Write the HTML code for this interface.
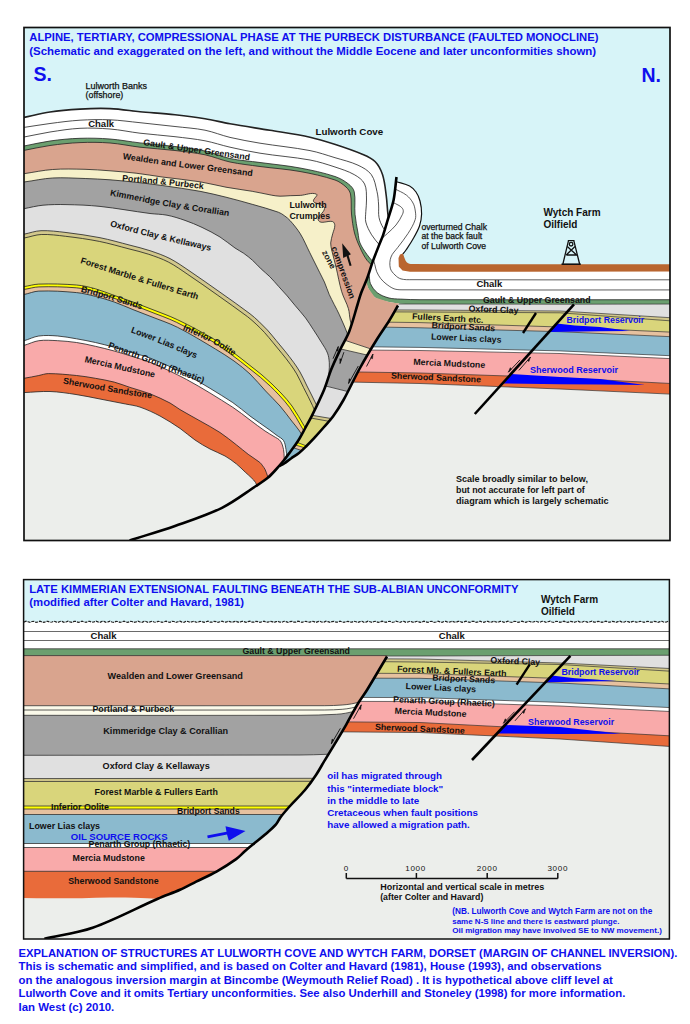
<!DOCTYPE html>
<html><head><meta charset="utf-8"><style>
html,body{margin:0;padding:0;background:#fff;width:690px;height:1024px;overflow:hidden}
svg{display:block}
text{font-family:"Liberation Sans",sans-serif}
</style></head><body>
<svg width="690" height="1024" viewBox="0 0 690 1024">
<defs>
<clipPath id="pt"><rect x="24" y="27" width="646" height="513"/></clipPath>
<clipPath id="lb"><path d="M18,20 L398.0,20.0 L398.0,160.0 L396.5,177.0 L393.6,200.0 L387.8,219.7 L383.2,234.8 L378.6,246.4 L372.8,261.4 L367.0,278.8 L361.2,292.8 L357.7,304.0 L349.3,331.2 L340.0,350.0 L331.0,370.0 L324.0,390.0 L312.2,415.2 L305.0,428.5 L297.8,441.3 L290.5,451.5 L283.5,460.8 L276.0,469.5 L267.8,477.8 L256.0,486.0 L222.0,507.8 L175.0,526.0 L129.6,540.4 L110.0,546.0 L18.0,560.0 Z"/></clipPath>
<clipPath id="rl"><path d="M398,20 L700.0,20.0 L700.0,560.0 L110.0,560.0 L110.0,546.0 L129.6,540.4 L175.0,526.0 L222.0,507.8 L256.0,486.0 L267.8,477.8 L276.0,469.5 L283.5,460.8 L290.5,451.5 L297.8,441.3 L305.0,428.5 L312.2,415.2 L324.0,390.0 L331.0,370.0 L340.0,350.0 L349.3,331.2 L357.7,304.0 L361.2,292.8 L367.0,278.8 L372.8,261.4 L378.6,246.4 L383.2,234.8 L387.8,219.7 L393.6,200.0 L396.5,177.0 L398.0,160.0 Z"/></clipPath>
<clipPath id="mb"><path d="M410,255 L402.0,300.0 L398.0,305.5 L389.6,320.0 L376.5,340.0 L360.0,368.0 L343.5,400.0 L333.0,416.5 L324.0,427.0 L314.8,437.4 L306.5,446.0 L299.0,453.0 L291.0,458.5 L284.5,463.2 L279.4,466.2 L283.5,460.8 L290.5,451.5 L297.8,441.3 L305.0,428.5 L312.2,415.2 L324.0,390.0 L331.0,370.0 L340.0,350.0 L349.3,331.2 L357.7,304.0 L361.2,292.8 L367.0,278.8 L372.8,261.4 Z"/></clipPath>
<clipPath id="rb"><path d="M402,298 L700.0,298.0 L700.0,560.0 L110.0,546.0 L129.6,540.4 L175.0,526.0 L222.0,507.8 L256.0,486.0 L267.8,477.8 L276.0,469.5 L279.4,466.2 L279.4,466.2 L284.5,463.2 L291.0,458.5 L299.0,453.0 L306.5,446.0 L314.8,437.4 L324.0,427.0 L333.0,416.5 L343.5,400.0 L360.0,368.0 L376.5,340.0 L389.6,320.0 L398.0,305.5 Z"/></clipPath>
</defs>
<rect width="690" height="1024" fill="#fff"/>
<g clip-path="url(#pt)">
<rect x="24" y="27" width="646" height="513" fill="#d7f4f8"/>
<g clip-path="url(#lb)">
<path d="M18.0,118.5 C20.0,118.1 22.0,117.8 24.0,117.4 C32.7,115.6 41.2,113.3 50.0,112.0 C59.9,110.5 70.0,109.7 80.0,109.1 C90.0,108.5 100.0,108.2 110.0,108.6 C120.0,109.0 130.0,110.7 140.0,111.7 C151.7,112.8 163.4,113.5 175.0,114.8 C185.0,115.9 195.0,117.1 205.0,118.7 C213.4,120.1 221.6,122.3 230.0,123.8 C243.3,126.2 256.7,128.1 270.0,130.3 C283.3,132.5 296.8,134.3 310.0,137.2 C318.6,139.1 327.0,141.8 335.4,144.5 C344.3,147.4 353.1,150.3 361.7,154.0 C366.4,156.0 371.4,157.9 375.0,161.5 C378.6,165.0 380.9,169.8 382.5,174.6 C384.7,181.3 385.3,188.4 386.2,195.4 C387.1,201.9 387.2,208.5 388.0,215.0 C389.1,223.4 390.7,231.7 392.0,240.0 L397.0,560 L18.0,560 Z" fill="#ffffff"/>
<path d="M18.0,147.0 C20.0,146.7 22.0,146.4 24.0,146.0 C32.7,144.4 41.3,142.2 50.0,141.0 C59.9,139.6 70.0,138.6 80.0,138.3 C90.0,138.0 100.0,138.2 110.0,139.0 C120.1,139.8 130.0,141.7 140.0,142.9 C151.7,144.2 163.4,145.0 175.0,146.5 C185.0,147.8 195.1,148.8 205.0,151.0 C213.5,152.9 221.5,156.7 230.0,158.5 C239.9,160.6 250.0,161.1 260.0,162.5 C273.3,164.3 286.8,165.5 300.0,168.0 C311.8,170.2 323.6,172.7 335.0,176.5 C339.9,178.1 344.5,180.8 348.5,184.0 C351.0,186.0 353.5,188.5 354.2,191.6 C355.8,199.0 354.3,206.7 355.0,214.2 C355.6,220.5 356.9,226.7 358.0,233.0 C358.6,236.3 358.7,239.9 360.0,243.0 C361.7,247.1 364.4,250.8 367.0,254.5 C368.7,257.0 370.7,259.2 372.8,261.4 C375.1,263.7 377.6,265.8 380.0,268.0 L385.0,560 L18.0,560 Z" fill="#6b9f6f"/>
<path d="M18.0,151.5 C20.0,151.1 22.0,150.8 24.0,150.4 C32.7,148.8 41.3,146.7 50.0,145.5 C60.0,144.1 70.0,143.0 80.0,142.6 C90.0,142.2 100.0,142.2 110.0,143.0 C120.1,143.8 130.0,146.0 140.0,147.2 C151.6,148.5 163.4,149.1 175.0,150.5 C185.0,151.7 195.1,152.7 205.0,154.8 C213.5,156.6 221.5,160.2 230.0,162.0 C239.9,164.1 250.0,165.1 260.0,166.5 C273.3,168.3 286.8,169.1 300.0,171.5 C311.8,173.6 323.6,176.2 335.0,180.0 C339.1,181.4 342.8,184.1 346.0,187.0 C348.1,188.9 349.9,191.3 350.5,194.0 C351.8,200.5 350.8,207.4 351.5,214.0 C352.2,220.4 352.9,226.8 354.5,233.0 C355.8,238.0 357.8,242.9 360.0,247.6 C362.0,252.0 364.1,256.4 367.0,260.3 C369.2,263.3 372.3,265.4 375.0,268.0 L380.0,560 L18.0,560 Z" fill="#d9a48e"/>
<path d="M18.0,174.5 C20.0,174.2 22.0,174.0 24.0,173.7 C33.5,172.3 43.0,170.2 52.6,169.5 C63.4,168.7 74.2,169.1 85.0,169.3 C93.3,169.5 101.7,170.2 110.0,170.8 C118.7,171.5 127.4,172.2 136.1,173.2 C144.8,174.2 153.5,175.8 162.2,177.0 C174.8,178.7 187.5,179.8 200.0,181.8 C208.7,183.2 217.3,185.6 226.0,187.2 C234.7,188.8 243.5,189.8 252.2,191.3 C258.7,192.4 265.2,194.0 271.7,195.2 C274.4,195.7 277.2,196.1 280.0,196.2 C283.4,196.3 286.7,195.8 290.1,195.7 C293.5,195.6 296.9,195.6 300.3,195.4 C305.7,195.1 311.6,192.0 316.5,194.2 C318.8,195.2 312.7,198.8 313.5,201.3 C314.2,203.5 317.7,203.1 319.6,204.3 C321.4,205.5 324.7,206.2 324.6,208.4 C324.3,212.9 316.1,216.7 318.5,220.6 C321.0,224.6 328.2,220.2 332.7,221.6 C334.1,222.0 334.8,224.1 334.8,225.6 C334.8,228.4 333.4,231.1 332.7,233.8 C332.0,236.8 330.9,239.8 330.7,242.9 C330.6,245.3 331.2,247.7 331.7,250.0 C333.0,255.7 334.6,261.3 336.0,267.0 C338.0,275.2 339.3,283.6 341.7,291.7 C343.4,297.5 346.7,302.8 348.4,308.6 C349.5,312.3 349.4,316.2 350.2,320.0 C350.9,323.4 351.7,326.8 353.0,330.0 C355.0,335.1 357.7,340.0 360.0,345.0 L365.0,560 L18.0,560 Z" fill="#f6f0c9"/>
<path d="M18.0,182.5 C20.0,182.3 22.0,182.3 24.0,182.0 C33.5,180.8 43.0,178.5 52.6,178.0 C63.5,177.4 74.3,178.2 85.2,178.5 C93.5,178.8 101.7,179.2 110.0,179.8 C118.7,180.4 127.3,181.4 136.0,182.3 C144.7,183.3 153.5,184.3 162.2,185.5 C174.8,187.3 187.5,189.0 200.0,191.3 C208.7,192.9 217.4,195.1 226.0,197.2 C234.8,199.4 243.5,201.8 252.2,204.3 C260.9,206.8 269.7,209.1 278.3,212.2 C280.7,213.0 282.8,214.5 284.8,216.0 C286.7,217.4 288.6,218.8 290.1,220.6 C293.8,224.8 297.4,229.1 300.3,233.8 C304.0,239.8 306.6,246.4 309.8,252.7 C313.0,259.2 316.3,265.7 319.5,272.2 C321.1,275.5 322.9,278.7 324.4,282.0 C326.2,286.2 327.5,290.5 329.3,294.7 C330.8,298.0 332.6,301.2 334.2,304.5 C335.8,307.7 337.6,310.9 339.1,314.2 C340.8,317.8 342.4,321.4 343.9,325.0 C345.0,327.6 346.1,330.2 347.0,332.8 C348.4,336.8 349.8,340.9 351.0,345.0 C352.5,350.0 353.7,355.0 355.0,360.0 L360.0,560 L18.0,560 Z" fill="#a2a2a2"/>
<path d="M18.0,210.0 C20.0,209.6 22.0,209.1 24.0,208.7 C30.3,207.5 36.6,205.8 43.0,205.2 C50.6,204.5 58.3,204.4 66.0,204.6 C77.3,204.8 88.7,205.2 100.0,206.4 C116.7,208.2 133.3,211.3 150.0,213.5 C155.6,214.2 161.4,214.1 167.0,215.2 C173.1,216.4 179.1,218.3 185.0,220.4 C190.8,222.4 196.5,224.8 202.0,227.4 C208.1,230.3 214.2,233.4 220.0,237.0 C225.3,240.3 229.9,244.5 235.0,248.0 C237.8,249.9 240.9,251.4 243.7,253.3 C246.7,255.4 249.6,257.7 252.4,260.2 C255.5,262.9 258.1,266.1 261.1,268.9 C263.9,271.6 267.0,273.9 269.8,276.7 C272.9,279.8 275.6,283.1 278.5,286.3 C281.4,289.5 284.4,292.6 287.2,295.9 C289.9,299.0 292.4,302.3 295.0,305.4 C298.5,309.6 302.3,313.6 305.6,318.0 C308.4,321.7 310.8,325.8 313.4,329.7 C316.1,333.8 318.8,338.0 321.3,342.2 C323.5,345.8 326.0,349.2 327.5,353.1 C328.7,356.1 329.0,359.3 329.3,362.5 C329.6,365.7 329.2,368.8 329.0,372.0 C328.8,375.3 328.5,378.7 328.0,382.0 C327.5,385.4 326.7,388.7 326.0,392.0 L331.0,560 L18.0,560 Z" fill="#e0e0e0"/>
<path d="M18.0,235.0 C20.0,234.7 22.0,234.6 24.0,234.2 C29.7,233.1 35.2,230.9 41.0,230.7 C49.3,230.4 57.7,231.5 66.0,232.5 C77.4,233.9 88.8,235.5 100.0,237.7 C110.1,239.7 120.0,242.6 130.0,245.2 C136.7,246.9 143.4,248.5 150.0,250.7 C156.8,253.0 163.6,255.3 170.0,258.6 C177.0,262.2 183.4,266.9 190.0,271.3 C200.1,278.1 210.1,285.2 220.0,292.2 C230.1,299.3 240.2,306.4 250.0,313.8 C253.1,316.1 255.9,318.7 258.7,321.3 C261.7,324.1 264.6,327.0 267.4,330.0 C270.4,333.3 273.2,336.9 276.1,340.4 C279.0,343.9 282.0,347.3 284.8,350.9 C287.8,354.6 290.7,358.3 293.5,362.2 C295.8,365.4 298.1,368.6 300.0,372.0 C302.6,376.5 304.7,381.3 307.0,386.0 C310.0,392.0 313.2,397.9 316.0,404.0 C319.2,410.9 322.0,418.0 325.0,425.0 L330.0,560 L18.0,560 Z" fill="#d2c88c"/>
<path d="M18.5,238.8 C20.6,238.5 22.7,238.3 24.7,237.9 C30.2,236.9 35.6,234.7 41.2,234.5 C49.3,234.2 57.5,235.3 65.6,236.3 C76.8,237.6 88.1,239.2 99.3,241.4 C109.3,243.4 119.1,246.3 129.0,248.9 C135.7,250.6 142.3,252.1 148.8,254.3 C155.4,256.5 162.1,258.8 168.3,262.0 C175.1,265.5 181.4,270.1 187.9,274.5 C198.0,281.2 207.9,288.3 217.8,295.3 C227.8,302.4 237.9,309.5 247.7,316.8 C250.7,319.1 253.4,321.6 256.1,324.1 C259.0,326.8 261.9,329.6 264.6,332.6 C267.6,335.9 270.3,339.4 273.2,342.8 C276.1,346.3 279.0,349.7 281.8,353.3 C284.8,356.9 287.7,360.6 290.4,364.4 C292.6,367.5 294.8,370.6 296.7,373.9 C299.2,378.4 301.3,383.1 303.6,387.7 C306.6,393.7 309.8,399.5 312.5,405.6 C315.7,412.5 318.5,419.5 321.5,426.5 L326.5,560 L18.5,560 Z" fill="#d9d57b"/>
<path d="M18.0,287.0 C20.0,286.9 22.0,286.9 24.0,286.6 C29.0,285.9 33.8,284.3 38.8,284.1 C51.4,283.7 64.0,284.0 76.5,285.0 C82.9,285.5 89.2,287.1 95.4,288.8 C101.8,290.6 107.9,293.2 114.2,295.4 C120.5,297.6 126.8,299.7 133.0,302.0 C138.7,304.1 144.4,306.4 150.0,308.6 C159.3,312.3 168.7,315.5 177.7,319.8 C190.6,326.0 203.1,332.8 215.4,340.0 C221.9,343.8 227.9,348.5 234.0,353.0 C239.4,357.0 244.7,361.3 250.0,365.5 C254.0,368.7 258.1,371.7 262.0,375.0 C265.4,377.9 268.7,380.9 272.0,384.0 C275.1,386.9 278.1,389.9 281.0,393.0 C284.8,397.2 288.7,401.3 292.0,406.0 C296.7,412.7 300.6,419.9 304.8,427.0 C307.3,431.3 309.6,435.7 312.0,440.0 L317.0,560 L18.0,560 Z" fill="#ffff00"/>
<path d="M18.2,289.8 C20.3,289.7 22.3,289.7 24.4,289.4 C29.2,288.7 34.0,287.0 38.9,286.9 C51.3,286.5 63.8,286.8 76.3,287.8 C82.5,288.3 88.6,289.8 94.7,291.5 C101.0,293.3 107.1,295.9 113.3,298.0 C119.5,300.2 125.8,302.3 132.0,304.6 C137.7,306.7 143.3,309.0 149.0,311.2 C158.2,314.9 167.6,318.0 176.5,322.3 C189.3,328.5 201.8,335.2 214.0,342.4 C220.4,346.2 226.3,350.8 232.3,355.3 C237.8,359.3 243.0,363.5 248.3,367.7 C252.3,370.8 256.3,373.9 260.2,377.1 C263.6,380.0 266.9,383.0 270.1,386.0 C273.1,388.9 276.1,391.8 278.9,394.9 C282.7,399.0 286.5,403.1 289.7,407.6 C294.4,414.3 298.3,421.4 302.4,428.4 C304.9,432.7 307.2,437.0 309.6,441.4 L314.6,560 L18.2,560 Z" fill="#e6c19f"/>
<path d="M18.0,295.0 C20.0,294.8 22.0,294.9 24.0,294.5 C29.0,293.6 33.7,291.3 38.8,291.1 C51.4,290.6 64.0,291.4 76.5,292.6 C82.9,293.2 89.2,294.8 95.4,296.4 C101.7,298.0 108.0,299.8 114.2,302.0 C120.6,304.2 126.7,307.1 133.0,309.6 C138.7,311.8 144.4,314.0 150.0,316.2 C159.3,319.9 168.8,322.9 177.7,327.4 C190.6,333.9 203.0,341.6 215.4,349.0 C221.7,352.8 228.0,356.7 234.0,361.0 C239.6,365.0 245.0,369.3 250.0,374.0 C255.6,379.3 260.3,385.4 265.6,391.0 C270.3,396.1 275.5,400.8 280.0,406.0 C284.2,410.8 287.8,416.0 291.7,421.0 C294.3,424.3 297.1,427.5 299.5,431.0 C301.9,434.5 303.8,438.3 306.0,442.0 L311.0,560 L18.0,560 Z" fill="#8bbace"/>
<path d="M18.0,341.5 C20.0,341.2 22.0,341.2 24.0,340.7 C29.0,339.4 33.7,336.7 38.8,336.0 C45.0,335.1 51.4,335.5 57.7,336.0 C64.0,336.5 70.3,337.7 76.5,338.8 C82.8,339.9 89.1,341.1 95.4,342.5 C101.7,343.9 108.0,345.6 114.2,347.3 C120.5,349.1 126.7,351.1 133.0,353.0 C138.7,354.7 144.5,355.8 150.0,358.0 C162.4,363.1 174.6,368.5 186.4,374.8 C202.3,383.4 217.7,392.8 232.8,402.6 C238.9,406.6 244.2,411.7 250.0,416.0 C256.2,420.6 262.7,425.0 269.0,429.5 C271.7,431.5 274.3,433.5 277.0,435.5 C279.2,437.2 282.0,438.2 283.5,440.5 C285.2,443.1 285.4,446.4 286.0,449.4 C286.5,452.2 286.7,455.1 286.8,458.0 C287.0,462.0 286.9,466.0 287.0,470.0 L292.0,560 L18.0,560 Z" fill="#ffffff"/>
<path d="M18.0,346.5 C20.0,346.1 22.0,345.9 24.0,345.4 C29.0,344.0 33.7,341.4 38.8,340.7 C45.0,339.8 51.4,340.4 57.7,340.7 C64.0,341.0 70.3,341.6 76.5,342.5 C82.9,343.4 89.1,344.9 95.4,346.3 C101.7,347.7 108.0,349.3 114.2,351.0 C120.5,352.7 126.8,354.7 133.0,356.7 C138.7,358.5 144.5,360.0 150.0,362.3 C162.3,367.5 174.6,373.0 186.4,379.4 C202.3,388.0 217.6,397.6 232.8,407.3 C238.8,411.1 244.3,415.8 250.0,420.0 C255.0,423.7 259.9,427.5 265.0,431.0 C267.9,433.0 271.1,434.6 274.0,436.5 C276.2,437.9 278.9,438.9 280.4,441.0 C282.2,443.4 282.8,446.5 283.5,449.4 C284.1,452.2 284.1,455.1 284.2,458.0 C284.4,462.0 284.4,466.0 284.5,470.0 L289.5,560 L18.0,560 Z" fill="#f9aaaa"/>
<path d="M18.0,379.0 C20.0,378.8 22.0,378.6 24.0,378.3 C29.0,377.5 33.9,376.5 38.8,375.5 C42.0,374.9 45.1,373.6 48.3,373.6 C57.7,373.6 67.1,374.6 76.5,375.5 C82.8,376.1 89.1,377.2 95.4,378.3 C101.7,379.4 108.0,380.5 114.2,382.1 C119.6,383.5 124.7,385.7 130.0,387.4 C136.7,389.6 143.5,391.3 150.0,393.8 C156.8,396.5 163.5,399.6 170.0,403.0 C173.5,404.9 176.6,407.6 180.0,409.6 C186.6,413.5 193.4,417.1 200.0,420.9 C206.7,424.7 213.6,428.3 220.0,432.5 C225.8,436.3 231.1,440.8 236.6,445.0 C240.5,448.0 244.2,451.3 248.2,454.3 C252.0,457.1 256.1,459.5 259.8,462.4 C261.0,463.3 261.8,464.7 262.7,465.9 C263.5,467.0 264.4,468.1 265.0,469.3 C266.0,471.5 266.8,473.7 267.5,476.0 C268.4,479.0 269.2,482.0 270.0,485.0 L275.0,560 L18.0,560 Z" fill="#e96b3a"/>
<path d="M18.0,393.0 C20.0,392.9 22.0,392.7 24.0,392.6 C32.7,392.2 41.3,391.2 50.0,391.5 C58.7,391.8 67.4,393.2 76.0,394.5 C84.0,395.7 92.0,397.5 100.0,399.0 C108.5,400.6 117.1,402.3 125.6,404.0 C130.4,405.0 135.4,405.5 140.0,407.1 C146.9,409.5 153.6,412.6 160.0,416.0 C166.9,419.7 173.5,424.0 180.0,428.4 C185.2,432.0 189.8,436.4 195.0,440.0 C199.8,443.3 204.9,446.3 210.0,449.0 C214.9,451.6 220.2,453.3 225.0,456.0 C229.1,458.3 232.9,461.2 236.6,464.1 C239.7,466.6 242.4,469.5 245.3,472.2 C247.2,474.0 249.3,475.6 251.1,477.5 C252.7,479.1 254.6,480.7 255.7,482.7 C256.9,484.9 257.4,487.5 258.0,490.0 C258.8,493.3 259.3,496.7 260.0,500.0 L265.0,560 L18.0,560 Z" fill="#eceeeb"/>
<path d="M18.0,118.5 C20.0,118.1 22.0,117.8 24.0,117.4 C32.7,115.6 41.2,113.3 50.0,112.0 C59.9,110.5 70.0,109.7 80.0,109.1 C90.0,108.5 100.0,108.2 110.0,108.6 C120.0,109.0 130.0,110.7 140.0,111.7 C151.7,112.8 163.4,113.5 175.0,114.8 C185.0,115.9 195.0,117.1 205.0,118.7 C213.4,120.1 221.6,122.3 230.0,123.8 C243.3,126.2 256.7,128.1 270.0,130.3 C283.3,132.5 296.8,134.3 310.0,137.2 C318.6,139.1 327.0,141.8 335.4,144.5 C344.3,147.4 353.1,150.3 361.7,154.0 C366.4,156.0 371.4,157.9 375.0,161.5 C378.6,165.0 380.9,169.8 382.5,174.6 C384.7,181.3 385.3,188.4 386.2,195.4 C387.1,201.9 387.2,208.5 388.0,215.0 C389.1,223.4 390.7,231.7 392.0,240.0" fill="none" stroke="#222" stroke-width="1.6"/>
<path d="M18.0,128.0 C20.0,127.8 22.0,127.7 24.0,127.4 C32.7,126.2 41.3,124.6 50.0,123.5 C60.0,122.2 70.0,120.8 80.0,120.2 C90.0,119.6 100.0,119.4 110.0,119.8 C120.0,120.2 130.0,121.7 140.0,122.7 C151.7,123.9 163.3,125.2 175.0,126.5 C185.0,127.7 195.1,128.2 205.0,130.2 C213.5,131.9 221.6,135.4 230.0,137.4 C239.9,139.7 250.0,141.5 260.0,143.2 C276.6,145.9 293.5,147.4 310.0,150.6 C318.5,152.2 326.7,155.2 335.0,157.7 C342.7,160.0 350.7,161.8 358.0,165.2 C362.9,167.5 368.1,170.2 371.3,174.6 C374.8,179.5 375.6,185.8 377.0,191.6 C378.1,196.0 378.3,200.5 378.6,205.0 C378.9,209.1 378.2,213.3 379.0,217.4 C379.7,221.1 381.3,224.6 383.2,227.8 C385.0,230.9 387.7,233.3 390.0,236.0" fill="none" stroke="#222" stroke-width="0.8"/>
<path d="M18.0,137.5 C20.0,137.3 22.0,137.3 24.0,137.0 C32.7,135.5 41.3,133.4 50.0,132.0 C60.0,130.5 69.9,128.8 80.0,128.3 C90.0,127.8 100.0,128.2 110.0,129.0 C120.1,129.8 130.0,132.0 140.0,133.2 C151.6,134.6 163.4,135.3 175.0,136.7 C185.0,137.9 195.1,138.9 205.0,140.8 C213.4,142.4 221.6,145.3 230.0,147.2 C239.9,149.4 249.9,151.6 260.0,153.2 C276.6,155.9 293.5,157.0 310.0,160.0 C318.5,161.6 326.8,164.3 335.0,167.0 C341.5,169.2 348.2,171.2 354.2,174.6 C358.3,176.9 362.6,179.8 364.6,184.0 C366.9,188.8 366.3,194.6 366.5,200.0 C366.7,203.9 365.9,207.7 365.8,211.6 C365.7,215.1 365.0,218.6 365.8,222.0 C366.9,226.5 369.2,230.8 371.6,234.8 C373.9,238.6 376.9,241.8 379.7,245.2 C381.7,247.6 383.9,249.7 386.0,252.0" fill="none" stroke="#222" stroke-width="0.8"/>
<path d="M18.0,147.0 C20.0,146.7 22.0,146.4 24.0,146.0 C32.7,144.4 41.3,142.2 50.0,141.0 C59.9,139.6 70.0,138.6 80.0,138.3 C90.0,138.0 100.0,138.2 110.0,139.0 C120.1,139.8 130.0,141.7 140.0,142.9 C151.7,144.2 163.4,145.0 175.0,146.5 C185.0,147.8 195.1,148.8 205.0,151.0 C213.5,152.9 221.5,156.7 230.0,158.5 C239.9,160.6 250.0,161.1 260.0,162.5 C273.3,164.3 286.8,165.5 300.0,168.0 C311.8,170.2 323.6,172.7 335.0,176.5 C339.9,178.1 344.5,180.8 348.5,184.0 C351.0,186.0 353.5,188.5 354.2,191.6 C355.8,199.0 354.3,206.7 355.0,214.2 C355.6,220.5 356.9,226.7 358.0,233.0 C358.6,236.3 358.7,239.9 360.0,243.0 C361.7,247.1 364.4,250.8 367.0,254.5 C368.7,257.0 370.7,259.2 372.8,261.4 C375.1,263.7 377.6,265.8 380.0,268.0" fill="none" stroke="#222" stroke-width="0.8"/>
<path d="M18.0,151.5 C20.0,151.1 22.0,150.8 24.0,150.4 C32.7,148.8 41.3,146.7 50.0,145.5 C60.0,144.1 70.0,143.0 80.0,142.6 C90.0,142.2 100.0,142.2 110.0,143.0 C120.1,143.8 130.0,146.0 140.0,147.2 C151.6,148.5 163.4,149.1 175.0,150.5 C185.0,151.7 195.1,152.7 205.0,154.8 C213.5,156.6 221.5,160.2 230.0,162.0 C239.9,164.1 250.0,165.1 260.0,166.5 C273.3,168.3 286.8,169.1 300.0,171.5 C311.8,173.6 323.6,176.2 335.0,180.0 C339.1,181.4 342.8,184.1 346.0,187.0 C348.1,188.9 349.9,191.3 350.5,194.0 C351.8,200.5 350.8,207.4 351.5,214.0 C352.2,220.4 352.9,226.8 354.5,233.0 C355.8,238.0 357.8,242.9 360.0,247.6 C362.0,252.0 364.1,256.4 367.0,260.3 C369.2,263.3 372.3,265.4 375.0,268.0" fill="none" stroke="#222" stroke-width="0.8"/>
<path d="M18.0,174.5 C20.0,174.2 22.0,174.0 24.0,173.7 C33.5,172.3 43.0,170.2 52.6,169.5 C63.4,168.7 74.2,169.1 85.0,169.3 C93.3,169.5 101.7,170.2 110.0,170.8 C118.7,171.5 127.4,172.2 136.1,173.2 C144.8,174.2 153.5,175.8 162.2,177.0 C174.8,178.7 187.5,179.8 200.0,181.8 C208.7,183.2 217.3,185.6 226.0,187.2 C234.7,188.8 243.5,189.8 252.2,191.3 C258.7,192.4 265.2,194.0 271.7,195.2 C274.4,195.7 277.2,196.1 280.0,196.2 C283.4,196.3 286.7,195.8 290.1,195.7 C293.5,195.6 296.9,195.6 300.3,195.4 C305.7,195.1 311.6,192.0 316.5,194.2 C318.8,195.2 312.7,198.8 313.5,201.3 C314.2,203.5 317.7,203.1 319.6,204.3 C321.4,205.5 324.7,206.2 324.6,208.4 C324.3,212.9 316.1,216.7 318.5,220.6 C321.0,224.6 328.2,220.2 332.7,221.6 C334.1,222.0 334.8,224.1 334.8,225.6 C334.8,228.4 333.4,231.1 332.7,233.8 C332.0,236.8 330.9,239.8 330.7,242.9 C330.6,245.3 331.2,247.7 331.7,250.0 C333.0,255.7 334.6,261.3 336.0,267.0 C338.0,275.2 339.3,283.6 341.7,291.7 C343.4,297.5 346.7,302.8 348.4,308.6 C349.5,312.3 349.4,316.2 350.2,320.0 C350.9,323.4 351.7,326.8 353.0,330.0 C355.0,335.1 357.7,340.0 360.0,345.0" fill="none" stroke="#222" stroke-width="0.8"/>
<path d="M18.0,182.5 C20.0,182.3 22.0,182.3 24.0,182.0 C33.5,180.8 43.0,178.5 52.6,178.0 C63.5,177.4 74.3,178.2 85.2,178.5 C93.5,178.8 101.7,179.2 110.0,179.8 C118.7,180.4 127.3,181.4 136.0,182.3 C144.7,183.3 153.5,184.3 162.2,185.5 C174.8,187.3 187.5,189.0 200.0,191.3 C208.7,192.9 217.4,195.1 226.0,197.2 C234.8,199.4 243.5,201.8 252.2,204.3 C260.9,206.8 269.7,209.1 278.3,212.2 C280.7,213.0 282.8,214.5 284.8,216.0 C286.7,217.4 288.6,218.8 290.1,220.6 C293.8,224.8 297.4,229.1 300.3,233.8 C304.0,239.8 306.6,246.4 309.8,252.7 C313.0,259.2 316.3,265.7 319.5,272.2 C321.1,275.5 322.9,278.7 324.4,282.0 C326.2,286.2 327.5,290.5 329.3,294.7 C330.8,298.0 332.6,301.2 334.2,304.5 C335.8,307.7 337.6,310.9 339.1,314.2 C340.8,317.8 342.4,321.4 343.9,325.0 C345.0,327.6 346.1,330.2 347.0,332.8 C348.4,336.8 349.8,340.9 351.0,345.0 C352.5,350.0 353.7,355.0 355.0,360.0" fill="none" stroke="#222" stroke-width="0.8"/>
<path d="M18.0,210.0 C20.0,209.6 22.0,209.1 24.0,208.7 C30.3,207.5 36.6,205.8 43.0,205.2 C50.6,204.5 58.3,204.4 66.0,204.6 C77.3,204.8 88.7,205.2 100.0,206.4 C116.7,208.2 133.3,211.3 150.0,213.5 C155.6,214.2 161.4,214.1 167.0,215.2 C173.1,216.4 179.1,218.3 185.0,220.4 C190.8,222.4 196.5,224.8 202.0,227.4 C208.1,230.3 214.2,233.4 220.0,237.0 C225.3,240.3 229.9,244.5 235.0,248.0 C237.8,249.9 240.9,251.4 243.7,253.3 C246.7,255.4 249.6,257.7 252.4,260.2 C255.5,262.9 258.1,266.1 261.1,268.9 C263.9,271.6 267.0,273.9 269.8,276.7 C272.9,279.8 275.6,283.1 278.5,286.3 C281.4,289.5 284.4,292.6 287.2,295.9 C289.9,299.0 292.4,302.3 295.0,305.4 C298.5,309.6 302.3,313.6 305.6,318.0 C308.4,321.7 310.8,325.8 313.4,329.7 C316.1,333.8 318.8,338.0 321.3,342.2 C323.5,345.8 326.0,349.2 327.5,353.1 C328.7,356.1 329.0,359.3 329.3,362.5 C329.6,365.7 329.2,368.8 329.0,372.0 C328.8,375.3 328.5,378.7 328.0,382.0 C327.5,385.4 326.7,388.7 326.0,392.0" fill="none" stroke="#222" stroke-width="0.8"/>
<path d="M18.0,235.0 C20.0,234.7 22.0,234.6 24.0,234.2 C29.7,233.1 35.2,230.9 41.0,230.7 C49.3,230.4 57.7,231.5 66.0,232.5 C77.4,233.9 88.8,235.5 100.0,237.7 C110.1,239.7 120.0,242.6 130.0,245.2 C136.7,246.9 143.4,248.5 150.0,250.7 C156.8,253.0 163.6,255.3 170.0,258.6 C177.0,262.2 183.4,266.9 190.0,271.3 C200.1,278.1 210.1,285.2 220.0,292.2 C230.1,299.3 240.2,306.4 250.0,313.8 C253.1,316.1 255.9,318.7 258.7,321.3 C261.7,324.1 264.6,327.0 267.4,330.0 C270.4,333.3 273.2,336.9 276.1,340.4 C279.0,343.9 282.0,347.3 284.8,350.9 C287.8,354.6 290.7,358.3 293.5,362.2 C295.8,365.4 298.1,368.6 300.0,372.0 C302.6,376.5 304.7,381.3 307.0,386.0 C310.0,392.0 313.2,397.9 316.0,404.0 C319.2,410.9 322.0,418.0 325.0,425.0" fill="none" stroke="#222" stroke-width="0.8"/>
<path d="M18.5,238.8 C20.6,238.5 22.7,238.3 24.7,237.9 C30.2,236.9 35.6,234.7 41.2,234.5 C49.3,234.2 57.5,235.3 65.6,236.3 C76.8,237.6 88.1,239.2 99.3,241.4 C109.3,243.4 119.1,246.3 129.0,248.9 C135.7,250.6 142.3,252.1 148.8,254.3 C155.4,256.5 162.1,258.8 168.3,262.0 C175.1,265.5 181.4,270.1 187.9,274.5 C198.0,281.2 207.9,288.3 217.8,295.3 C227.8,302.4 237.9,309.5 247.7,316.8 C250.7,319.1 253.4,321.6 256.1,324.1 C259.0,326.8 261.9,329.6 264.6,332.6 C267.6,335.9 270.3,339.4 273.2,342.8 C276.1,346.3 279.0,349.7 281.8,353.3 C284.8,356.9 287.7,360.6 290.4,364.4 C292.6,367.5 294.8,370.6 296.7,373.9 C299.2,378.4 301.3,383.1 303.6,387.7 C306.6,393.7 309.8,399.5 312.5,405.6 C315.7,412.5 318.5,419.5 321.5,426.5" fill="none" stroke="#222" stroke-width="0.8"/>
<path d="M18.0,287.0 C20.0,286.9 22.0,286.9 24.0,286.6 C29.0,285.9 33.8,284.3 38.8,284.1 C51.4,283.7 64.0,284.0 76.5,285.0 C82.9,285.5 89.2,287.1 95.4,288.8 C101.8,290.6 107.9,293.2 114.2,295.4 C120.5,297.6 126.8,299.7 133.0,302.0 C138.7,304.1 144.4,306.4 150.0,308.6 C159.3,312.3 168.7,315.5 177.7,319.8 C190.6,326.0 203.1,332.8 215.4,340.0 C221.9,343.8 227.9,348.5 234.0,353.0 C239.4,357.0 244.7,361.3 250.0,365.5 C254.0,368.7 258.1,371.7 262.0,375.0 C265.4,377.9 268.7,380.9 272.0,384.0 C275.1,386.9 278.1,389.9 281.0,393.0 C284.8,397.2 288.7,401.3 292.0,406.0 C296.7,412.7 300.6,419.9 304.8,427.0 C307.3,431.3 309.6,435.7 312.0,440.0" fill="none" stroke="#222" stroke-width="0.8"/>
<path d="M18.2,289.8 C20.3,289.7 22.3,289.7 24.4,289.4 C29.2,288.7 34.0,287.0 38.9,286.9 C51.3,286.5 63.8,286.8 76.3,287.8 C82.5,288.3 88.6,289.8 94.7,291.5 C101.0,293.3 107.1,295.9 113.3,298.0 C119.5,300.2 125.8,302.3 132.0,304.6 C137.7,306.7 143.3,309.0 149.0,311.2 C158.2,314.9 167.6,318.0 176.5,322.3 C189.3,328.5 201.8,335.2 214.0,342.4 C220.4,346.2 226.3,350.8 232.3,355.3 C237.8,359.3 243.0,363.5 248.3,367.7 C252.3,370.8 256.3,373.9 260.2,377.1 C263.6,380.0 266.9,383.0 270.1,386.0 C273.1,388.9 276.1,391.8 278.9,394.9 C282.7,399.0 286.5,403.1 289.7,407.6 C294.4,414.3 298.3,421.4 302.4,428.4 C304.9,432.7 307.2,437.0 309.6,441.4" fill="none" stroke="#222" stroke-width="0.8"/>
<path d="M18.0,295.0 C20.0,294.8 22.0,294.9 24.0,294.5 C29.0,293.6 33.7,291.3 38.8,291.1 C51.4,290.6 64.0,291.4 76.5,292.6 C82.9,293.2 89.2,294.8 95.4,296.4 C101.7,298.0 108.0,299.8 114.2,302.0 C120.6,304.2 126.7,307.1 133.0,309.6 C138.7,311.8 144.4,314.0 150.0,316.2 C159.3,319.9 168.8,322.9 177.7,327.4 C190.6,333.9 203.0,341.6 215.4,349.0 C221.7,352.8 228.0,356.7 234.0,361.0 C239.6,365.0 245.0,369.3 250.0,374.0 C255.6,379.3 260.3,385.4 265.6,391.0 C270.3,396.1 275.5,400.8 280.0,406.0 C284.2,410.8 287.8,416.0 291.7,421.0 C294.3,424.3 297.1,427.5 299.5,431.0 C301.9,434.5 303.8,438.3 306.0,442.0" fill="none" stroke="#222" stroke-width="0.8"/>
<path d="M18.0,341.5 C20.0,341.2 22.0,341.2 24.0,340.7 C29.0,339.4 33.7,336.7 38.8,336.0 C45.0,335.1 51.4,335.5 57.7,336.0 C64.0,336.5 70.3,337.7 76.5,338.8 C82.8,339.9 89.1,341.1 95.4,342.5 C101.7,343.9 108.0,345.6 114.2,347.3 C120.5,349.1 126.7,351.1 133.0,353.0 C138.7,354.7 144.5,355.8 150.0,358.0 C162.4,363.1 174.6,368.5 186.4,374.8 C202.3,383.4 217.7,392.8 232.8,402.6 C238.9,406.6 244.2,411.7 250.0,416.0 C256.2,420.6 262.7,425.0 269.0,429.5 C271.7,431.5 274.3,433.5 277.0,435.5 C279.2,437.2 282.0,438.2 283.5,440.5 C285.2,443.1 285.4,446.4 286.0,449.4 C286.5,452.2 286.7,455.1 286.8,458.0 C287.0,462.0 286.9,466.0 287.0,470.0" fill="none" stroke="#222" stroke-width="0.8"/>
<path d="M18.0,346.5 C20.0,346.1 22.0,345.9 24.0,345.4 C29.0,344.0 33.7,341.4 38.8,340.7 C45.0,339.8 51.4,340.4 57.7,340.7 C64.0,341.0 70.3,341.6 76.5,342.5 C82.9,343.4 89.1,344.9 95.4,346.3 C101.7,347.7 108.0,349.3 114.2,351.0 C120.5,352.7 126.8,354.7 133.0,356.7 C138.7,358.5 144.5,360.0 150.0,362.3 C162.3,367.5 174.6,373.0 186.4,379.4 C202.3,388.0 217.6,397.6 232.8,407.3 C238.8,411.1 244.3,415.8 250.0,420.0 C255.0,423.7 259.9,427.5 265.0,431.0 C267.9,433.0 271.1,434.6 274.0,436.5 C276.2,437.9 278.9,438.9 280.4,441.0 C282.2,443.4 282.8,446.5 283.5,449.4 C284.1,452.2 284.1,455.1 284.2,458.0 C284.4,462.0 284.4,466.0 284.5,470.0" fill="none" stroke="#222" stroke-width="0.8"/>
<path d="M18.0,379.0 C20.0,378.8 22.0,378.6 24.0,378.3 C29.0,377.5 33.9,376.5 38.8,375.5 C42.0,374.9 45.1,373.6 48.3,373.6 C57.7,373.6 67.1,374.6 76.5,375.5 C82.8,376.1 89.1,377.2 95.4,378.3 C101.7,379.4 108.0,380.5 114.2,382.1 C119.6,383.5 124.7,385.7 130.0,387.4 C136.7,389.6 143.5,391.3 150.0,393.8 C156.8,396.5 163.5,399.6 170.0,403.0 C173.5,404.9 176.6,407.6 180.0,409.6 C186.6,413.5 193.4,417.1 200.0,420.9 C206.7,424.7 213.6,428.3 220.0,432.5 C225.8,436.3 231.1,440.8 236.6,445.0 C240.5,448.0 244.2,451.3 248.2,454.3 C252.0,457.1 256.1,459.5 259.8,462.4 C261.0,463.3 261.8,464.7 262.7,465.9 C263.5,467.0 264.4,468.1 265.0,469.3 C266.0,471.5 266.8,473.7 267.5,476.0 C268.4,479.0 269.2,482.0 270.0,485.0" fill="none" stroke="#222" stroke-width="0.8"/>
<path d="M18.0,393.0 C20.0,392.9 22.0,392.7 24.0,392.6 C32.7,392.2 41.3,391.2 50.0,391.5 C58.7,391.8 67.4,393.2 76.0,394.5 C84.0,395.7 92.0,397.5 100.0,399.0 C108.5,400.6 117.1,402.3 125.6,404.0 C130.4,405.0 135.4,405.5 140.0,407.1 C146.9,409.5 153.6,412.6 160.0,416.0 C166.9,419.7 173.5,424.0 180.0,428.4 C185.2,432.0 189.8,436.4 195.0,440.0 C199.8,443.3 204.9,446.3 210.0,449.0 C214.9,451.6 220.2,453.3 225.0,456.0 C229.1,458.3 232.9,461.2 236.6,464.1 C239.7,466.6 242.4,469.5 245.3,472.2 C247.2,474.0 249.3,475.6 251.1,477.5 C252.7,479.1 254.6,480.7 255.7,482.7 C256.9,484.9 257.4,487.5 258.0,490.0 C258.8,493.3 259.3,496.7 260.0,500.0" fill="none" stroke="#222" stroke-width="0.8"/>
</g>
<g clip-path="url(#rl)">
<path d="M396.5,181.7 C400.9,183.1 405.5,183.9 409.6,186.0 C412.2,187.4 414.3,189.6 416.0,192.0 C417.9,194.7 419.2,197.8 420.0,201.0 C421.1,205.2 421.7,209.6 421.6,214.0 C421.5,218.1 420.8,222.2 419.5,226.0 C417.9,230.6 415.4,234.8 413.0,239.0 C410.9,242.8 408.4,246.4 406.0,250.0 C405.1,251.4 404.0,252.7 403.0,254.0 L399.4,256.8 L399.4,268 L700,268 L700,560 L100,560 L300,170 Z" fill="#fff"/>
<path d="M403.0,253.5 C403.5,255.0 403.9,256.6 404.5,258.0 C405.2,259.6 405.7,261.4 407.0,262.5 C408.4,263.6 410.3,264.0 412.0,264.0 C498.0,264.6 584.0,264.2 670.0,264.3 L680,264.5 L680,271.3 L670.0,271.6 L410.0,271.8 L402.5,270.5 L398.8,266.5 L398.5,258.0 L400.0,254.5 Z" fill="#b9652f"/>
<path d="M396.5,181.7 C400.9,183.1 405.5,183.9 409.6,186.0 C412.2,187.4 414.3,189.6 416.0,192.0 C417.9,194.7 419.2,197.8 420.0,201.0 C421.1,205.2 421.7,209.6 421.6,214.0 C421.5,218.1 420.8,222.2 419.5,226.0 C417.9,230.6 415.4,234.8 413.0,239.0 C410.9,242.8 408.4,246.4 406.0,250.0 C405.1,251.4 404.0,252.7 403.0,254.0" fill="none" stroke="#111" stroke-width="1.2"/>
<path d="M394.0,188.5 C398.2,190.7 402.7,192.3 406.5,195.2 C409.2,197.3 411.4,200.0 413.0,203.0 C414.4,205.4 414.9,208.2 415.3,211.0 C415.7,213.8 416.1,216.9 415.2,219.6 C413.6,224.6 410.8,229.1 408.0,233.5 C405.0,238.4 401.2,242.7 397.8,247.4 C395.5,250.6 392.3,253.3 391.0,257.0 C389.7,260.5 389.5,264.5 390.3,268.2 C390.9,270.9 393.1,273.1 395.0,275.0 C396.7,276.7 398.7,278.3 401.0,278.9 C404.5,279.9 408.3,279.7 412.0,279.7 C501.3,280.0 590.7,279.8 680.0,279.8" fill="none" stroke="#333" stroke-width="0.8"/>
<path d="M391.7,202.0 C394.1,203.2 396.8,204.0 399.0,205.5 C400.6,206.5 402.3,207.7 403.0,209.5 C403.6,211.0 403.2,212.8 402.5,214.3 C400.8,218.1 398.6,221.7 396.0,225.0 C393.5,228.2 390.3,230.7 387.4,233.5 C385.0,235.7 382.5,237.8 380.0,240.0" fill="none" stroke="#333" stroke-width="0.8"/>
<path d="M373.0,258.0 C373.6,260.2 374.2,262.3 374.8,264.5 C375.4,266.9 375.8,269.4 376.7,271.7 C377.7,274.0 379.0,276.3 380.5,278.3 C382.1,280.4 384.0,282.2 386.0,283.8 C388.5,285.7 391.1,287.7 394.0,288.8 C396.5,289.7 399.3,289.8 402.0,289.8 C494.7,290.2 587.3,289.9 680.0,289.9" fill="none" stroke="#333" stroke-width="0.8"/>
<path d="M362.0,265.0 C364.2,268.1 367.1,270.7 368.7,274.2 C370.0,277.1 369.1,280.6 370.4,283.5 C372.0,287.0 374.3,290.4 377.4,292.8 C380.7,295.4 384.9,296.9 389.0,298.0 C392.7,299.0 396.7,298.9 400.6,299.1 C407.1,299.5 413.5,299.7 420.0,299.7 C506.7,299.9 593.3,299.7 680.0,299.7 L680,304 680.0,304.0 C593.3,304.0 506.7,304.1 420.0,304.0 C413.5,304.0 407.1,304.2 400.6,303.8 C396.7,303.5 392.8,302.9 389.0,302.0 C384.2,300.8 379.1,300.1 375.0,297.4 C371.8,295.3 369.9,291.5 368.1,288.1 C366.8,285.6 366.9,282.6 365.8,280.0 C364.2,276.5 361.9,273.3 360.0,270.0 Z" fill="#6b9f6f"/>
<path d="M362.0,265.0 C364.2,268.1 367.1,270.7 368.7,274.2 C370.0,277.1 369.1,280.6 370.4,283.5 C372.0,287.0 374.3,290.4 377.4,292.8 C380.7,295.4 384.9,296.9 389.0,298.0 C392.7,299.0 396.7,298.9 400.6,299.1 C407.1,299.5 413.5,299.7 420.0,299.7 C506.7,299.9 593.3,299.7 680.0,299.7" fill="none" stroke="#222" stroke-width="0.8"/>
</g>
<g clip-path="url(#mb)">
<path d="M360,270 L360.0,270.0 L365.8,280.0 L368.1,288.1 L375.0,297.4 L389.0,302.0 L400.6,303.8 L420.0,304.0 L680.0,304.0 L420,306 L420,560 L250,560 L250,260 Z" fill="#d9a48e"/>
<path d="M250,308.7 L420,365.3 L420,560 L250,560 Z" fill="#f6f0c9"/>
<path d="M250,308.7 L420,365.3" stroke="#333" stroke-width="0.8"/>
<path d="M250,328.1 L420,367.2 L420,560 L250,560 Z" fill="#a2a2a2"/>
<path d="M250,328.1 L420,367.2" stroke="#333" stroke-width="0.8"/>
<path d="M250,367.1 L420,409.6 L420,560 L250,560 Z" fill="#e0e0e0"/>
<path d="M250,367.1 L420,409.6" stroke="#333" stroke-width="0.8"/>
<path d="M250,405.0 L420,433.3 L420,560 L250,560 Z" fill="#d2c88c"/>
<path d="M250,405.0 L420,433.3" stroke="#333" stroke-width="0.8"/>
<path d="M250,407.1 L420,437.7 L420,560 L250,560 Z" fill="#d9d57b"/>
<path d="M250,407.1 L420,437.7" stroke="#333" stroke-width="0.8"/>
<path d="M250,424.6 L420,488.8 L420,560 L250,560 Z" fill="#ffff00"/>
<path d="M250,424.6 L420,488.8" stroke="#333" stroke-width="0.8"/>
<path d="M250,431.4 L420,482.4 L420,560 L250,560 Z" fill="#e6c19f"/>
<path d="M250,431.4 L420,482.4" stroke="#333" stroke-width="0.8"/>
<path d="M250,433.3 L420,490.0 L420,560 L250,560 Z" fill="#8bbace"/>
<path d="M250,433.3 L420,490.0" stroke="#333" stroke-width="0.8"/>
</g>
<g clip-path="url(#rb)">
<path d="M100,304 L300,304 L420,304 L560,304.3 L700,304 L700,560 L100,560 Z" fill="#e0e0e0"/>
<path d="M100,304 L300,304 L420,304 L560,304.3 L700,304" fill="none" stroke="#333" stroke-width="0.7"/>
<path d="M100,309 L300,309.5 L420,310 L560,311 L700,319.5 L700,560 L100,560 Z" fill="#d2c88c"/>
<path d="M100,309 L300,309.5 L420,310 L560,311 L700,319.5" fill="none" stroke="#333" stroke-width="0.7"/>
<path d="M100,311 L300,311.5 L420,312 L560,312.8 L700,323 L700,560 L100,560 Z" fill="#d9d57b"/>
<path d="M100,311 L300,311.5 L420,312 L560,312.8 L700,323" fill="none" stroke="#333" stroke-width="0.7"/>
<path d="M100,319.5 L300,321 L420,322.6 L560,327 L700,333.5 L700,560 L100,560 Z" fill="#e6c19f"/>
<path d="M100,319.5 L300,321 L420,322.6 L560,327 L700,333.5" fill="none" stroke="#333" stroke-width="0.7"/>
<path d="M100,323 L300,325.5 L420,327.8 L560,331.7 L700,338 L700,560 L100,560 Z" fill="#8bbace"/>
<path d="M100,323 L300,325.5 L420,327.8 L560,331.7 L700,338" fill="none" stroke="#333" stroke-width="0.7"/>
<path d="M100,344.5 L300,346 L420,347.4 L560,350.9 L700,357 L700,560 L100,560 Z" fill="#ffffff"/>
<path d="M100,344.5 L300,346 L420,347.4 L560,350.9 L700,357" fill="none" stroke="#333" stroke-width="0.7"/>
<path d="M100,348.5 L300,349.5 L420,350.5 L560,353.5 L700,360 L700,560 L100,560 Z" fill="#f9aaaa"/>
<path d="M100,348.5 L300,349.5 L420,350.5 L560,353.5 L700,360" fill="none" stroke="#333" stroke-width="0.7"/>
<path d="M100,369 L300,371 L420,373 L560,377.8 L700,385 L700,560 L100,560 Z" fill="#e96b3a"/>
<path d="M100,369 L300,371 L420,373 L560,377.8 L700,385" fill="none" stroke="#333" stroke-width="0.7"/>
<path d="M100,379 L300,381 L420,383.5 L560,389 L700,395.5 L700,560 L100,560 Z" fill="#eceeeb"/>
<path d="M100,379 L300,381 L420,383.5 L560,389 L700,395.5" fill="none" stroke="#333" stroke-width="0.7"/>
<path d="M556.6,323.5 L575,325.5 L600,327 L630,331 L600,331.2 L549,332 Z" fill="#0000ff"/>
<path d="M511,374 L560,377 L600,379 L645,385 L600,384.5 L560,384.3 L502.4,383.5 Z" fill="#0000ff"/>
</g>
<path d="M396.5,177.0 C395.5,184.7 395.1,192.4 393.6,200.0 C392.2,206.7 389.8,213.1 387.8,219.7 C386.3,224.7 384.9,229.8 383.2,234.8 C381.8,238.7 380.1,242.5 378.6,246.4 C376.6,251.4 374.6,256.4 372.8,261.4 C370.7,267.2 369.1,273.1 367.0,278.8 C365.2,283.5 362.9,288.1 361.2,292.8 C359.8,296.5 358.9,300.3 357.7,304.0 C354.9,313.1 352.7,322.3 349.3,331.2 C346.8,337.7 343.0,343.7 340.0,350.0 C336.9,356.6 333.7,363.2 331.0,370.0 C328.4,376.6 326.7,383.5 324.0,390.0 C320.4,398.6 316.3,406.9 312.2,415.2 C310.0,419.7 307.4,424.1 305.0,428.5 C302.6,432.8 300.4,437.2 297.8,441.3 C295.6,444.8 293.0,448.1 290.5,451.5 C288.2,454.6 285.9,457.8 283.5,460.8 C281.1,463.8 278.6,466.7 276.0,469.5 C273.4,472.4 270.8,475.3 267.8,477.8 C264.1,480.8 260.0,483.4 256.0,486.0 C244.7,493.4 234.1,501.8 222.0,507.8 C206.9,515.2 190.8,520.4 175.0,526.0 C160.0,531.3 144.7,535.6 129.6,540.4" fill="none" stroke="#000" stroke-width="2.6"/>
<path d="M398.0,305.5 C395.2,310.3 392.6,315.3 389.6,320.0 C385.4,326.8 380.7,333.2 376.5,340.0 C370.8,349.2 365.2,358.5 360.0,368.0 C354.2,378.5 349.3,389.5 343.5,400.0 C340.3,405.7 336.8,411.2 333.0,416.5 C330.3,420.2 327.0,423.5 324.0,427.0 C321.0,430.5 317.9,434.0 314.8,437.4 C312.1,440.3 309.3,443.2 306.5,446.0 C304.1,448.4 301.7,450.9 299.0,453.0 C296.5,455.0 293.6,456.6 291.0,458.5 C288.8,460.0 286.7,461.7 284.5,463.2 C282.9,464.3 281.1,465.2 279.4,466.2" fill="none" stroke="#000" stroke-width="2.6"/>
<path d="M574,304.3 L474.8,414" stroke="#000" stroke-width="2.6"/>
<path d="M536,313 L523,333" stroke="#000" stroke-width="2.4"/>
</g>
<rect x="24" y="27.5" width="646" height="513" fill="none" stroke="#111" stroke-width="1.7"/>
<defs>
<clipPath id="pb"><rect x="23.6" y="579.6" width="645.8" height="359.4"/></clipPath>
<clipPath id="blb"><path d="M10,570 L390.0,570.0 L390.0,651.0 L387.0,656.5 L367.0,690.0 L358.3,703.0 L346.1,724.8 L334.8,743.9 L325.2,759.6 L316.0,775.0 L305.0,790.0 L289.1,807.0 L280.4,817.4 L276.0,824.3 L264.8,834.8 L255.2,842.6 L244.8,851.3 L236.1,859.1 L216.5,871.6 L196.2,881.7 L180.0,889.8 L157.8,898.8 L92.6,927.8 L44.4,938.7 L30.0,942.0 L10.0,960.0 Z"/></clipPath>
<clipPath id="brb"><path d="M390,570 L700.0,570.0 L700.0,960.0 L30.0,942.0 L44.4,938.7 L92.6,927.8 L157.8,898.8 L180.0,889.8 L196.2,881.7 L216.5,871.6 L236.1,859.1 L244.8,851.3 L255.2,842.6 L264.8,834.8 L276.0,824.3 L280.4,817.4 L289.1,807.0 L305.0,790.0 L316.0,775.0 L325.2,759.6 L334.8,743.9 L346.1,724.8 L358.3,703.0 L367.0,690.0 L387.0,656.5 L390.0,651.0 Z"/></clipPath>
</defs>
<g clip-path="url(#pb)">
<rect x="23.6" y="579.6" width="645.8" height="359.4" fill="#d7f4f8"/>
<rect x="23.6" y="621.8" width="645.8" height="30" fill="#fff"/>
<rect x="23.6" y="648.8" width="645.8" height="10" fill="#6b9f6f"/>
<path d="M24,621.8 L24,622.0 L26,621.2 L28,621.8 L30,622.4 L32,621.5 L34,621.4 L36,622.3 L38,622.0 L40,621.2 L42,621.9 L44,622.4 L46,621.5 L48,621.4 L50,622.3 L52,622.0 L54,621.2 L56,621.9 L58,622.4 L60,621.5 L62,621.4 L64,622.3 L66,622.0 L68,621.2 L70,621.9 L72,622.4 L74,621.4 L76,621.4 L78,622.3 L80,622.0 L82,621.2 L84,621.9 L86,622.3 L88,621.4 L90,621.4 L92,622.3 L94,621.9 L96,621.2 L98,621.9 L100,622.3 L102,621.4 L104,621.4 L106,622.3 L108,621.9 L110,621.2 L112,622.0 L114,622.3 L116,621.4 L118,621.5 L120,622.4 L122,621.9 L124,621.2 L126,622.0 L128,622.3 L130,621.4 L132,621.5 L134,622.4 L136,621.9 L138,621.2 L140,622.0 L142,622.3 L144,621.4 L146,621.5 L148,622.4 L150,621.9 L152,621.2 L154,622.0 L156,622.3 L158,621.4 L160,621.5 L162,622.4 L164,621.8 L166,621.2 L168,622.0 L170,622.3 L172,621.3 L174,621.5 L176,622.4 L178,621.8 L180,621.2 L182,622.1 L184,622.3 L186,621.3 L188,621.5 L190,622.4 L192,621.8 L194,621.2 L196,622.1 L198,622.3 L200,621.3 L202,621.6 L204,622.4 L206,621.8 L208,621.2 L210,622.1 L212,622.2 L214,621.3 L216,621.6 L218,622.4 L220,621.8 L222,621.2 L224,622.1 L226,622.2 L228,621.3 L230,621.6 L232,622.4 L234,621.7 L236,621.2 L238,622.1 L240,622.2 L242,621.3 L244,621.6 L246,622.4 L248,621.7 L250,621.2 L252,622.1 L254,622.2 L256,621.3 L258,621.6 L260,622.4 L262,621.7 L264,621.2 L266,622.2 L268,622.2 L270,621.3 L272,621.7 L274,622.4 L276,621.7 L278,621.3 L280,622.2 L282,622.2 L284,621.3 L286,621.7 L288,622.4 L290,621.7 L292,621.3 L294,622.2 L296,622.2 L298,621.2 L300,621.7 L302,622.4 L304,621.6 L306,621.3 L308,622.2 L310,622.1 L312,621.2 L314,621.7 L316,622.4 L318,621.6 L320,621.3 L322,622.2 L324,622.1 L326,621.2 L328,621.7 L330,622.4 L332,621.6 L334,621.3 L336,622.2 L338,622.1 L340,621.2 L342,621.8 L344,622.4 L346,621.6 L348,621.3 L350,622.2 L352,622.1 L354,621.2 L356,621.8 L358,622.4 L360,621.6 L362,621.3 L364,622.3 L366,622.1 L368,621.2 L370,621.8 L372,622.4 L374,621.5 L376,621.3 L378,622.3 L380,622.1 L382,621.2 L384,621.8 L386,622.4 L388,621.5 L390,621.3 L392,622.3 L394,622.0 L396,621.2 L398,621.8 L400,622.4 L402,621.5 L404,621.4 L406,622.3 L408,622.0 L410,621.2 L412,621.9 L414,622.4 L416,621.5 L418,621.4 L420,622.3 L422,622.0 L424,621.2 L426,621.9 L428,622.4 L430,621.5 L432,621.4 L434,622.3 L436,622.0 L438,621.2 L440,621.9 L442,622.4 L444,621.5 L446,621.4 L448,622.3 L450,622.0 L452,621.2 L454,621.9 L456,622.3 L458,621.4 L460,621.4 L462,622.3 L464,621.9 L466,621.2 L468,621.9 L470,622.3 L472,621.4 L474,621.4 L476,622.3 L478,621.9 L480,621.2 L482,622.0 L484,622.3 L486,621.4 L488,621.4 L490,622.4 L492,621.9 L494,621.2 L496,622.0 L498,622.3 L500,621.4 L502,621.5 L504,622.4 L506,621.9 L508,621.2 L510,622.0 L512,622.3 L514,621.4 L516,621.5 L518,622.4 L520,621.9 L522,621.2 L524,622.0 L526,622.3 L528,621.4 L530,621.5 L532,622.4 L534,621.8 L536,621.2 L538,622.0 L540,622.3 L542,621.3 L544,621.5 L546,622.4 L548,621.8 L550,621.2 L552,622.0 L554,622.3 L556,621.3 L558,621.5 L560,622.4 L562,621.8 L564,621.2 L566,622.1 L568,622.3 L570,621.3 L572,621.6 L574,622.4 L576,621.8 L578,621.2 L580,622.1 L582,622.2 L584,621.3 L586,621.6 L588,622.4 L590,621.8 L592,621.2 L594,622.1 L596,622.2 L598,621.3 L600,621.6 L602,622.4 L604,621.7 L606,621.2 L608,622.1 L610,622.2 L612,621.3 L614,621.6 L616,622.4 L618,621.7 L620,621.2 L622,622.1 L624,622.2 L626,621.3 L628,621.6 L630,622.4 L632,621.7 L634,621.2 L636,622.2 L638,622.2 L640,621.3 L642,621.6 L644,622.4 L646,621.7 L648,621.3 L650,622.2 L652,622.2 L654,621.3 L656,621.7 L658,622.4 L660,621.7 L662,621.3 L664,622.2 L666,622.2 L668,621.3 L670,621.7" fill="none" stroke="#222" stroke-width="1.2" stroke-dasharray="3,1"/>
<path d="M24,631.5 L670,631.5" stroke="#444" stroke-width="0.8"/>
<path d="M24,640.5 L670,640.5" stroke="#444" stroke-width="0.8"/>
<path d="M24,648.8 L670,648.8" stroke="#333" stroke-width="0.8"/>
<g clip-path="url(#blb)">
<path d="M10.0,655.6 L400.0,655.6 L400,960 L10,960 Z" fill="#d9a48e"/>
<path d="M10.0,655.6 L400.0,655.6" fill="none" stroke="#333" stroke-width="0.8"/>
<path d="M10.0,705.7 C114.9,705.7 219.9,705.9 324.8,705.7 C330.6,705.7 336.4,705.4 342.2,705.0 C345.3,704.8 348.4,704.4 351.4,703.9 C353.8,703.5 356.1,702.9 358.4,702.2 C360.6,701.6 362.8,700.7 365.0,700.0 L365,960 L10,960 Z" fill="#fbfaea"/>
<path d="M10.0,705.7 C114.9,705.7 219.9,705.9 324.8,705.7 C330.6,705.7 336.4,705.4 342.2,705.0 C345.3,704.8 348.4,704.4 351.4,703.9 C353.8,703.5 356.1,702.9 358.4,702.2 C360.6,701.6 362.8,700.7 365.0,700.0" fill="none" stroke="#333" stroke-width="0.8"/>
<path d="M10.0,710.0 C114.9,710.0 219.9,710.2 324.8,710.0 C330.6,710.0 336.4,709.7 342.2,709.3 C345.3,709.1 348.4,708.6 351.4,708.0 C353.8,707.5 356.1,706.8 358.4,706.0 C360.6,705.3 362.8,704.3 365.0,703.5 L365,960 L10,960 Z" fill="#fbfaea"/>
<path d="M10.0,710.0 C114.9,710.0 219.9,710.2 324.8,710.0 C330.6,710.0 336.4,709.7 342.2,709.3 C345.3,709.1 348.4,708.6 351.4,708.0 C353.8,707.5 356.1,706.8 358.4,706.0 C360.6,705.3 362.8,704.3 365.0,703.5" fill="none" stroke="#333" stroke-width="0.8"/>
<path d="M10.0,715.3 C106.7,715.3 203.3,715.6 300.0,715.3 C312.1,715.3 324.3,714.9 336.4,714.3 C339.5,714.2 342.6,713.7 345.7,713.2 C347.6,712.9 349.5,712.5 351.4,712.0 C354.3,711.1 357.1,710.0 360.0,709.0 L360,960 L10,960 Z" fill="#a2a2a2"/>
<path d="M10.0,715.3 C106.7,715.3 203.3,715.6 300.0,715.3 C312.1,715.3 324.3,714.9 336.4,714.3 C339.5,714.2 342.6,713.7 345.7,713.2 C347.6,712.9 349.5,712.5 351.4,712.0 C354.3,711.1 357.1,710.0 360.0,709.0" fill="none" stroke="#333" stroke-width="0.8"/>
<path d="M10.0,755.3 C106.7,755.2 203.3,755.3 300.0,755.0 C309.0,755.0 318.0,754.6 327.0,754.3 C331.3,754.1 335.7,753.8 340.0,753.5 L340,960 L10,960 Z" fill="#e0e0e0"/>
<path d="M10.0,755.3 C106.7,755.2 203.3,755.3 300.0,755.0 C309.0,755.0 318.0,754.6 327.0,754.3 C331.3,754.1 335.7,753.8 340.0,753.5" fill="none" stroke="#333" stroke-width="0.8"/>
<path d="M10.0,778.6 L330.0,778.3 L330,960 L10,960 Z" fill="#d2c88c"/>
<path d="M10.0,778.6 L330.0,778.3" fill="none" stroke="#333" stroke-width="0.8"/>
<path d="M10.0,781.5 L330.0,781.3 L330,960 L10,960 Z" fill="#d9d57b"/>
<path d="M10.0,781.5 L330.0,781.3" fill="none" stroke="#333" stroke-width="0.8"/>
<path d="M10.0,806.0 L330.0,806.0 L330,960 L10,960 Z" fill="#ffff00"/>
<path d="M10.0,806.0 L330.0,806.0" fill="none" stroke="#333" stroke-width="0.8"/>
<path d="M10.0,809.0 L330.0,809.0 L330,960 L10,960 Z" fill="#e6c19f"/>
<path d="M10.0,809.0 L330.0,809.0" fill="none" stroke="#333" stroke-width="0.8"/>
<path d="M10.0,814.5 L330.0,814.5 L330,960 L10,960 Z" fill="#8bbace"/>
<path d="M10.0,814.5 L330.0,814.5" fill="none" stroke="#333" stroke-width="0.8"/>
<path d="M10.0,843.5 L330.0,843.5 L330,960 L10,960 Z" fill="#ffffff"/>
<path d="M10.0,843.5 L330.0,843.5" fill="none" stroke="#333" stroke-width="0.8"/>
<path d="M10.0,847.5 L330.0,847.5 L330,960 L10,960 Z" fill="#f9aaaa"/>
<path d="M10.0,847.5 L330.0,847.5" fill="none" stroke="#333" stroke-width="0.8"/>
<path d="M10.0,871.3 L330.0,871.3 L330,960 L10,960 Z" fill="#e96b3a"/>
<path d="M10.0,871.3 L330.0,871.3" fill="none" stroke="#333" stroke-width="0.8"/>
<path d="M10.0,897.8 C23.3,897.9 36.7,898.1 50.0,898.2 C60.7,898.3 71.3,898.4 82.0,898.3 C91.3,898.2 100.7,897.7 110.0,897.6 C118.0,897.5 126.0,897.6 134.0,897.8 C142.7,898.0 151.3,898.8 160.0,899.0 C173.3,899.2 186.7,899.0 200.0,899.0 C266.7,899.0 333.3,899.0 400.0,899.0 L400,960 L10,960 Z" fill="#eceeeb"/>
</g>
<g clip-path="url(#brb)">
<path d="M10,656 L300,656 L420,656 L560,655.5 L700,655.2 L700,960 L10,960 Z" fill="#e0e0e0"/>
<path d="M10,656 L300,656 L420,656 L560,655.5 L700,655.2" fill="none" stroke="#333" stroke-width="0.7"/>
<path d="M10,658 L300,658.5 L420,659 L560,663 L700,670 L700,960 L10,960 Z" fill="#d2c88c"/>
<path d="M10,658 L300,658.5 L420,659 L560,663 L700,670" fill="none" stroke="#333" stroke-width="0.7"/>
<path d="M10,660.5 L300,661 L420,662 L560,664.5 L700,673 L700,960 L10,960 Z" fill="#d9d57b"/>
<path d="M10,660.5 L300,661 L420,662 L560,664.5 L700,673" fill="none" stroke="#333" stroke-width="0.7"/>
<path d="M10,672.5 L300,673 L420,673.5 L560,678.5 L700,685.5 L700,960 L10,960 Z" fill="#e6c19f"/>
<path d="M10,672.5 L300,673 L420,673.5 L560,678.5 L700,685.5" fill="none" stroke="#333" stroke-width="0.7"/>
<path d="M10,677.5 L300,678 L420,678.3 L560,683 L700,690.5 L700,960 L10,960 Z" fill="#8bbace"/>
<path d="M10,677.5 L300,678 L420,678.3 L560,683 L700,690.5" fill="none" stroke="#333" stroke-width="0.7"/>
<path d="M10,697 L300,697.3 L420,697.6 L560,702.4 L700,709 L700,960 L10,960 Z" fill="#ffffff"/>
<path d="M10,697 L300,697.3 L420,697.6 L560,702.4 L700,709" fill="none" stroke="#333" stroke-width="0.7"/>
<path d="M10,701 L300,701.3 L420,701.5 L560,706 L700,713 L700,960 L10,960 Z" fill="#f9aaaa"/>
<path d="M10,701 L300,701.3 L420,701.5 L560,706 L700,713" fill="none" stroke="#333" stroke-width="0.7"/>
<path d="M10,721 L300,721.5 L420,722.5 L560,729.8 L700,737.5 L700,960 L10,960 Z" fill="#e96b3a"/>
<path d="M10,721 L300,721.5 L420,722.5 L560,729.8 L700,737.5" fill="none" stroke="#333" stroke-width="0.7"/>
<path d="M10,731 L300,731.5 L420,732.5 L560,739 L700,748.5 L700,960 L10,960 Z" fill="#eceeeb"/>
<path d="M10,731 L300,731.5 L420,732.5 L560,739 L700,748.5" fill="none" stroke="#333" stroke-width="0.7"/>
<path d="M551.8,675.5 L575,678.3 L617,681 L575,681.8 L545.5,682.2 Z" fill="#0000ff"/>
<path d="M505.1,725 L560,727 L621,733.8 L560,734 L497,733.5 Z" fill="#0000ff"/>
</g>
<path d="M387.0,656.5 C380.3,667.7 373.8,678.9 367.0,690.0 C364.3,694.4 361.0,698.5 358.3,703.0 C354.0,710.1 350.2,717.6 346.1,724.8 C342.4,731.2 338.6,737.6 334.8,743.9 C331.6,749.2 328.4,754.4 325.2,759.6 C322.1,764.7 319.3,770.0 316.0,775.0 C312.6,780.2 309.0,785.3 305.0,790.0 C300.0,795.9 294.3,801.2 289.1,807.0 C286.1,810.4 283.1,813.8 280.4,817.4 C278.8,819.6 277.8,822.3 276.0,824.3 C272.6,828.1 268.6,831.4 264.8,834.8 C261.7,837.5 258.4,840.0 255.2,842.6 C251.7,845.5 248.2,848.3 244.8,851.3 C241.9,853.8 239.3,856.8 236.1,859.1 C229.8,863.6 223.2,867.8 216.5,871.6 C209.9,875.3 203.0,878.3 196.2,881.7 C190.8,884.4 185.5,887.3 180.0,889.8 C172.7,893.0 165.1,895.6 157.8,898.8 C136.0,908.3 115.0,919.9 92.6,927.8 C77.1,933.3 60.5,935.1 44.4,938.7" fill="none" stroke="#000" stroke-width="2.6"/>
<path d="M570.4,655.8 L472,760" stroke="#000" stroke-width="2.6"/>
<path d="M529.8,664.3 L516.6,684.6" stroke="#000" stroke-width="2.4"/>
</g>
<rect x="23.6" y="579.6" width="645.8" height="359.4" fill="none" stroke="#111" stroke-width="1.5"/>
<defs><path id="tp1" d="M143.0,145.0 C154.2,146.7 165.3,148.4 176.5,150.0 C200.5,153.4 224.4,156.7 248.4,160.0 C260.4,161.7 272.4,163.3 284.4,165.0"/><path id="tp2" d="M122.5,159.0 C141.3,161.7 160.0,164.5 178.8,167.0 C203.8,170.3 228.9,173.3 254.0,176.4 C266.5,178.0 279.1,179.5 291.6,181.1"/><path id="tp3" d="M122.0,181.0 C135.3,182.2 148.7,183.2 162.0,184.5 C175.4,185.8 188.7,187.5 202.0,189.0 C208.7,189.8 215.3,190.5 222.0,191.2"/><path id="tp4" d="M109.7,195.4 C128.1,198.9 146.5,202.8 165.0,206.0 C186.6,209.8 208.3,212.9 230.0,216.3 C240.8,218.0 251.7,219.7 262.5,221.5"/><path id="tp5" d="M109.7,226.3 C126.9,230.7 144.1,235.3 161.4,239.5 C178.0,243.5 194.7,247.2 211.3,251.1 C219.6,253.0 227.9,255.0 236.2,256.9"/><path id="tp6" d="M80.0,263.0 C99.3,269.1 118.5,275.3 137.8,281.3 C157.6,287.5 177.5,293.5 197.3,299.6 C207.2,302.7 217.1,305.7 227.1,308.8"/><path id="tp7" d="M80.4,291.7 C91.7,294.8 103.1,297.6 114.4,300.9 C122.7,303.3 130.9,306.1 139.1,308.7 C143.2,310.0 147.3,311.3 151.4,312.6"/><path id="tp8" d="M182.6,329.6 C192.2,333.9 202.0,337.8 211.3,342.6 C218.8,346.5 225.8,351.3 233.0,355.7 C236.6,357.9 240.2,360.1 243.8,362.2"/><path id="tp9" d="M130.4,332.3 C138.5,335.3 146.7,338.2 154.8,341.4 C168.7,347.0 182.5,352.9 196.3,358.7 C203.2,361.6 210.1,364.5 217.1,367.4"/><path id="tp10" d="M107.7,347.5 C118.7,351.6 129.6,355.6 140.6,359.7 C161.2,367.4 181.8,375.2 202.4,383.0 C212.7,386.9 223.0,390.8 233.3,394.6"/><path id="tp11" d="M84.2,361.9 C93.8,364.1 103.4,366.2 113.0,368.4 C126.5,371.4 140.1,374.5 153.6,377.5 C160.4,379.0 167.1,380.5 173.9,382.1"/><path id="tp12" d="M62.7,383.6 C78.1,386.3 93.6,389.1 109.0,391.7 C123.5,394.2 138.1,396.4 152.6,398.8 C159.9,400.0 167.1,401.2 174.4,402.4"/></defs><text x="29.3" y="41.4" font-size="11.25" font-weight="bold" fill="#0f0fee">ALPINE, TERTIARY, COMPRESSIONAL PHASE AT THE PURBECK DISTURBANCE (FAULTED MONOCLINE)</text>
<text x="29.3" y="54.5" font-size="11.44" font-weight="bold" fill="#0f0fee">(Schematic and exaggerated on the left, and without the Middle Eocene and later unconformities shown)</text>
<text x="33.5" y="81.2" font-size="19.5" font-weight="bold" fill="#0f0fee">S.</text>
<text x="641.5" y="81.5" font-size="19.5" font-weight="bold" fill="#0f0fee">N.</text>
<text x="85.5" y="88.8" font-size="9.0" font-weight="normal" fill="#111" stroke="#111" stroke-width="0.25">Lulworth Banks</text>
<text x="85.5" y="98.3" font-size="8.9" font-weight="normal" fill="#111" stroke="#111" stroke-width="0.25">(offshore)</text>
<text x="88.2" y="127.2" font-size="9.5" font-weight="bold" fill="#111">Chalk</text>
<text x="315.5" y="134.6" font-size="9.75" font-weight="bold" fill="#111">Lulworth Cove</text>
<text font-size="8.8" font-weight="bold" fill="#111"><textPath href="#tp1">Gault &amp; Upper Greensand</textPath></text>
<text font-size="8.8" font-weight="bold" fill="#111"><textPath href="#tp2">Wealden and Lower Greensand</textPath></text>
<text font-size="8.8" font-weight="bold" fill="#111"><textPath href="#tp3">Portland &amp; Purbeck</textPath></text>
<text font-size="8.8" font-weight="bold" fill="#111"><textPath href="#tp4">Kimmeridge Clay &amp; Corallian</textPath></text>
<text font-size="8.8" font-weight="bold" fill="#111"><textPath href="#tp5">Oxford Clay &amp; Kellaways</textPath></text>
<text font-size="8.8" font-weight="bold" fill="#111"><textPath href="#tp6">Forest Marble &amp; Fullers Earth</textPath></text>
<text font-size="8.8" font-weight="bold" fill="#111"><textPath href="#tp7">Bridport Sands</textPath></text>
<text font-size="8.8" font-weight="bold" fill="#111"><textPath href="#tp8">Inferior Oolite</textPath></text>
<text font-size="8.8" font-weight="bold" fill="#111"><textPath href="#tp9">Lower Lias clays</textPath></text>
<text font-size="8.8" font-weight="bold" fill="#111"><textPath href="#tp10">Penarth Group (Rhaetic)</textPath></text>
<text font-size="8.8" font-weight="bold" fill="#111"><textPath href="#tp11">Mercia Mudstone</textPath></text>
<text font-size="8.8" font-weight="bold" fill="#111"><textPath href="#tp12">Sherwood Sandstone</textPath></text>
<text x="289.5" y="208.1" font-size="8.8" font-weight="bold" fill="#111">Lulworth</text>
<text x="289.5" y="218.7" font-size="8.8" font-weight="bold" fill="#111">Crumples</text>
<text x="331.2" y="247.8" font-size="8.8" font-weight="bold" fill="#111" transform="rotate(70 331.2 247.8)">compression</text>
<text x="321.8" y="252.3" font-size="8.6" font-weight="bold" fill="#111" transform="rotate(62 321.8 252.3)">zone</text>
<text x="421.5" y="229.7" font-size="8.6" font-weight="normal" fill="#111" stroke="#111" stroke-width="0.25">overturned Chalk</text>
<text x="421.5" y="239.4" font-size="8.6" font-weight="normal" fill="#111" stroke="#111" stroke-width="0.25">at the back fault</text>
<text x="421.5" y="249.3" font-size="8.6" font-weight="normal" fill="#111" stroke="#111" stroke-width="0.25">of Lulworth Cove</text>
<text x="543.5" y="215.7" font-size="10.0" font-weight="bold" fill="#111">Wytch Farm</text>
<text x="543.5" y="228.2" font-size="10.0" font-weight="bold" fill="#111">Oilfield</text>
<text x="476.4" y="287.4" font-size="9.5" font-weight="bold" fill="#111">Chalk</text>
<text x="483" y="302.8" font-size="8.8" font-weight="bold" fill="#111">Gault &amp; Upper Greensand</text>
<text x="468.5" y="311.4" font-size="8.8" font-weight="bold" fill="#111" transform="rotate(2.5 468.5 311.4)">Oxford Clay</text>
<text x="412" y="319.3" font-size="8.8" font-weight="bold" fill="#111" transform="rotate(3 412 319.3)">Fullers Earth etc.</text>
<text x="431.5" y="328" font-size="8.8" font-weight="bold" fill="#111" transform="rotate(3 431.5 328)">Bridport Sands</text>
<text x="431" y="339.6" font-size="8.8" font-weight="bold" fill="#111" transform="rotate(2.5 431 339.6)">Lower Lias clays</text>
<text x="566.5" y="322.9" font-size="8.8" font-weight="bold" fill="#0f0fee">Bridport Reservoir</text>
<text x="413.3" y="364.8" font-size="8.8" font-weight="bold" fill="#111" transform="rotate(2.5 413.3 364.8)">Mercia Mudstone</text>
<text x="391" y="378.5" font-size="8.8" font-weight="bold" fill="#111" transform="rotate(2.5 391 378.5)">Sherwood Sandstone</text>
<text x="530" y="372.6" font-size="9.05" font-weight="bold" fill="#0f0fee">Sherwood Reservoir</text>
<text x="456" y="482.2" font-size="9.05" font-weight="bold" fill="#111">Scale broadly similar to below,</text>
<text x="456" y="493.1" font-size="8.85" font-weight="bold" fill="#111">but not accurate for left part of</text>
<text x="456" y="503.8" font-size="9.1" font-weight="bold" fill="#111">diagram which is largely schematic</text>
<text x="29.2" y="592.6" font-size="11.28" font-weight="bold" fill="#0f0fee">LATE KIMMERIAN EXTENSIONAL FAULTING BENEATH THE SUB-ALBIAN UNCONFORMITY</text>
<text x="29.3" y="606" font-size="11.33" font-weight="bold" fill="#0f0fee">(modified after Colter and Havard, 1981)</text>
<text x="541" y="602.7" font-size="10.0" font-weight="bold" fill="#111">Wytch Farm</text>
<text x="541" y="614.6" font-size="10.0" font-weight="bold" fill="#111">Oilfield</text>
<text x="90.6" y="639.2" font-size="9.5" font-weight="bold" fill="#111">Chalk</text>
<text x="438.8" y="638.6" font-size="9.5" font-weight="bold" fill="#111">Chalk</text>
<text x="242.4" y="654.3" font-size="8.8" font-weight="bold" fill="#111">Gault &amp; Upper Greensand</text>
<text x="107.6" y="679.1" font-size="9.1" font-weight="bold" fill="#111">Wealden and Lower Greensand</text>
<text x="92.4" y="712.2" font-size="8.8" font-weight="bold" fill="#111">Portland &amp; Purbeck</text>
<text x="103.3" y="734.3" font-size="9.1" font-weight="bold" fill="#111">Kimmeridge Clay &amp; Corallian</text>
<text x="102.6" y="768.8" font-size="9.1" font-weight="bold" fill="#111">Oxford Clay &amp; Kellaways</text>
<text x="94.6" y="795.2" font-size="8.85" font-weight="bold" fill="#111">Forest Marble &amp; Fullers Earth</text>
<text x="51" y="810" font-size="8.85" font-weight="bold" fill="#111">Inferior Oolite</text>
<text x="177" y="814" font-size="8.7" font-weight="bold" fill="#111">Bridport Sands</text>
<text x="29" y="829.2" font-size="8.9" font-weight="bold" fill="#111">Lower Lias clays</text>
<text x="70.8" y="839.6" font-size="9.6" font-weight="bold" fill="#0f0fee">OIL SOURCE ROCKS</text>
<text x="88.6" y="847.2" font-size="8.8" font-weight="bold" fill="#111">Penarth Group (Rhaetic)</text>
<text x="72.6" y="860.8" font-size="8.85" font-weight="bold" fill="#111">Mercia Mudstone</text>
<text x="68.2" y="884.4" font-size="8.85" font-weight="bold" fill="#111">Sherwood Sandstone</text>
<text x="490.2" y="663" font-size="8.8" font-weight="bold" fill="#111" transform="rotate(2.5 490.2 663)">Oxford Clay</text>
<text x="397" y="671.7" font-size="8.8" font-weight="bold" fill="#111" transform="rotate(2.5 397 671.7)">Forest Mb. &amp; Fullers Earth</text>
<text x="432.3" y="680.4" font-size="8.7" font-weight="bold" fill="#111" transform="rotate(2.5 432.3 680.4)">Bridport Sands</text>
<text x="405.6" y="689.1" font-size="8.8" font-weight="bold" fill="#111" transform="rotate(2.5 405.6 689.1)">Lower Lias clays</text>
<text x="393.1" y="702.2" font-size="8.8" font-weight="bold" fill="#111" transform="rotate(2.5 393.1 702.2)">Penarth Group (Rhaetic)</text>
<text x="394.6" y="713.8" font-size="8.8" font-weight="bold" fill="#111" transform="rotate(2.5 394.6 713.8)">Mercia Mudstone</text>
<text x="374.9" y="729.7" font-size="8.8" font-weight="bold" fill="#111" transform="rotate(2.5 374.9 729.7)">Sherwood Sandstone</text>
<text x="561.4" y="674.9" font-size="8.85" font-weight="bold" fill="#0f0fee">Bridport Reservoir</text>
<text x="528.1" y="724.7" font-size="8.85" font-weight="bold" fill="#0f0fee">Sherwood Reservoir</text>
<text x="327.2" y="779.4" font-size="9.8" font-weight="bold" fill="#0f0fee">oil has migrated through</text>
<text x="327.2" y="791.6" font-size="9.8" font-weight="bold" fill="#0f0fee">this &quot;intermediate block&quot;</text>
<text x="327.2" y="803.6" font-size="9.8" font-weight="bold" fill="#0f0fee">in the middle to late</text>
<text x="327.2" y="815.9" font-size="9.8" font-weight="bold" fill="#0f0fee">Cretaceous when fault positions</text>
<text x="327.2" y="828.4" font-size="9.8" font-weight="bold" fill="#0f0fee">have allowed a migration path.</text>
<text x="346.3" y="870.7" font-size="8.1" fill="#111" text-anchor="middle" letter-spacing="0.7">0</text>
<text x="415.6" y="870.7" font-size="8.1" fill="#111" text-anchor="middle" letter-spacing="0.7">1000</text>
<text x="487.2" y="870.7" font-size="8.1" fill="#111" text-anchor="middle" letter-spacing="0.7">2000</text>
<text x="557.8" y="870.7" font-size="8.1" fill="#111" text-anchor="middle" letter-spacing="0.7">3000</text>
<text x="380.2" y="889.8" font-size="9.0" font-weight="bold" fill="#111">Horizontal and vertical scale in metres</text>
<text x="380.2" y="899.8" font-size="8.8" font-weight="bold" fill="#111">(after Colter and Havard)</text>
<text x="452.2" y="914.3" font-size="8.27" font-weight="bold" fill="#0f0fee">(NB. Lulworth Cove and Wytch Farm are not on the</text>
<text x="452.2" y="923.7" font-size="8.0" font-weight="bold" fill="#0f0fee">same N-S line and there is eastward plunge.</text>
<text x="452.2" y="933.3" font-size="8.07" font-weight="bold" fill="#0f0fee">Oil migration may have involved SE to NW movement.)</text>
<path d="M333.0,358.7 L338.3,346.5" stroke="#111" stroke-width="0.9"/>
<path d="M338.3,346.5 L338.2,351.3 L336.5,350.6 Z" fill="#111" stroke="#111" stroke-width="0.5"/>
<path d="M343.9,352.2 L340.0,363.5" stroke="#111" stroke-width="0.9"/>
<path d="M340.0,363.5 L339.8,358.7 L341.5,359.2 Z" fill="#111" stroke="#111" stroke-width="0.5"/>
<path d="M358.3,366.0 L348.5,383.5" stroke="#111" stroke-width="0.9"/>
<path d="M348.5,383.5 L349.1,378.7 L350.7,379.6 Z" fill="#111" stroke="#111" stroke-width="0.5"/>
<path d="M366.5,366.5 L373.0,354.0" stroke="#111" stroke-width="0.9"/>
<path d="M373.0,354.0 L372.5,358.8 L370.9,358.0 Z" fill="#111" stroke="#111" stroke-width="0.5"/>
<path d="M520.0,359.9 L508.4,372.2" stroke="#111" stroke-width="0.9"/>
<path d="M508.4,372.2 L510.2,367.7 L511.5,368.9 Z" fill="#111" stroke="#111" stroke-width="0.5"/>
<path d="M518.9,370.4 L530.5,357.0" stroke="#111" stroke-width="0.9"/>
<path d="M530.5,357.0 L528.9,361.6 L527.6,360.4 Z" fill="#111" stroke="#111" stroke-width="0.5"/>
<path d="M353.5,718.7 L361.3,704.8" stroke="#111" stroke-width="0.9"/>
<path d="M361.3,704.8 L360.7,709.6 L359.1,708.7 Z" fill="#111" stroke="#111" stroke-width="0.5"/>
<path d="M340.4,728.3 L331.3,743.9" stroke="#111" stroke-width="0.9"/>
<path d="M331.3,743.9 L332.0,739.1 L333.6,740.0 Z" fill="#111" stroke="#111" stroke-width="0.5"/>
<path d="M514.6,711.7 L503.4,723.3" stroke="#111" stroke-width="0.9"/>
<path d="M503.4,723.3 L505.2,718.8 L506.5,720.1 Z" fill="#111" stroke="#111" stroke-width="0.5"/>
<path d="M515.0,720.8 L525.5,708.8" stroke="#111" stroke-width="0.9"/>
<path d="M525.5,708.8 L523.9,713.4 L522.5,712.2 Z" fill="#111" stroke="#111" stroke-width="0.5"/>
<path d="M342.2,243.3 L343.2,257.9 L346.6,256.3 L349.6,266 L351.6,265.4 L348.6,255.6 L350.9,254.3 Z" fill="#111"/>
<g fill="none" stroke="#111" stroke-width="1.3"><path d="M568.5,240.6 L562.9,264 M573.8,240.6 L579.6,264 M567.8,240.6 L574.4,240.6"/><path d="M566.2,255 L577,255 M567.3,246.5 L576.6,255 M575,246.5 L566.2,255"/><circle cx="571.1" cy="244.2" r="1.8"/><path d="M561.5,264.2 L580.8,264.2" stroke-width="1.6"/></g>
<path d="M207.8,838.2 L227,834.5 L228.8,840.8 L245.5,831 L225.5,826.2 L226.5,831.8 L207.2,835.4 Z" fill="#0f0fee"/>
<path d="M346.3,878.4 L557.8,878.4 M346.3,873 L346.3,878.4 M416.4,873 L416.4,878.4 M487.2,873 L487.2,878.4 M557.8,873 L557.8,878.4" stroke="#111" stroke-width="1.5" fill="none"/>
<text x="18.5" y="956.7" font-size="11.27" font-weight="bold" fill="#0f0fee">EXPLANATION OF STRUCTURES AT LULWORTH COVE AND WYTCH FARM, DORSET (MARGIN OF CHANNEL INVERSION).</text>
<text x="18.5" y="970.3" font-size="11.41" font-weight="bold" fill="#0f0fee">This is schematic and simplified, and is based on Colter and Havard (1981), House (1993), and observations</text>
<text x="18.5" y="983.5" font-size="11.37" font-weight="bold" fill="#0f0fee">on the analogous inversion margin at Bincombe (Weymouth Relief Road) . It is hypothetical above cliff level at</text>
<text x="18.5" y="997" font-size="11.35" font-weight="bold" fill="#0f0fee">Lulworth Cove and it omits Tertiary unconformities. See also Underhill and Stoneley (1998) for more information.</text>
<text x="18.5" y="1010.8" font-size="11.45" font-weight="bold" fill="#0f0fee">Ian West (c) 2010.</text>
</svg>
</body></html>
